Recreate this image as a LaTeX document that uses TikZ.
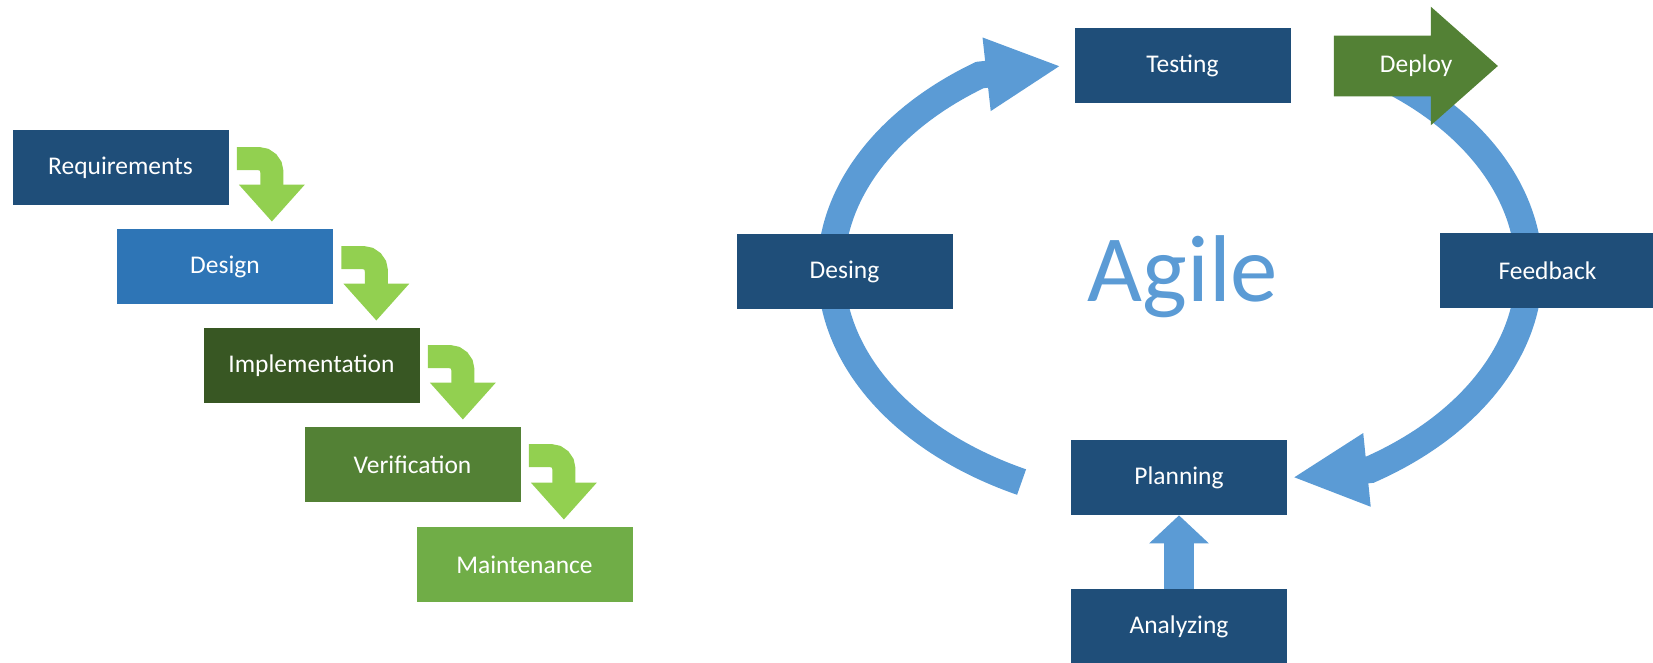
\documentclass[tikz,border=0pt]{standalone}
\usepackage{fontspec}
\setmainfont{Carlito}
\usetikzlibrary{arrows.meta,shapes.arrows,backgrounds}
\definecolor{boxnavy}{HTML}{1F4E79}
\definecolor{desblue}{HTML}{2E75B6}
\definecolor{impgreen}{HTML}{385723}
\definecolor{vergreen}{HTML}{538135}
\definecolor{maingreen}{HTML}{70AD47}
\definecolor{stepgreen}{HTML}{92D050}
\definecolor{cycleblue}{HTML}{5B9BD5}

\begin{document}
\begin{tikzpicture}[
	box/.style={rectangle, minimum width=4.32cm, minimum height=1.5cm, inner sep=0pt, text=white, font=\fontsize{14.5}{17}\selectfont},
	stairarrow/.style={draw=stepgreen, line width=0.46cm, rounded corners=0.26cm, -{Triangle[length=0.74cm, width=1.27cm]}},
	cyclearrow/.style={draw=cycleblue, line width=0.54cm, -{Triangle[length=1.5cm, width=1.36cm]}}
	]
	\useasboundingbox (0,0) rectangle (33.06,13.26);
	% waterfall
	\node[box, fill=boxnavy] (req) at(2.41,9.91){Requirements};
	\node[box, fill=desblue] (des) at(4.50,7.93){Design};
	\node[box, fill=impgreen] (imp) at(6.23,5.95){Implementation};
	\node[box, fill=vergreen] (ver) at(8.25,3.97){Verification};
	\node[box, fill=maingreen] (mai) at(10.49,1.97){Maintenance};
	\draw[stairarrow] ([xshift=0.16cm,yshift=-0.58cm]req.north east) -| ([xshift=0.86cm,yshift=0.14cm]req.east |- des.north);
	\draw[stairarrow] ([xshift=0.16cm,yshift=-0.58cm]des.north east) -| ([xshift=0.86cm,yshift=0.14cm]des.east |- imp.north);
	\draw[stairarrow] ([xshift=0.16cm,yshift=-0.58cm]imp.north east) -| ([xshift=0.86cm,yshift=0.14cm]imp.east |- ver.north);
	\draw[stairarrow] ([xshift=0.16cm,yshift=-0.58cm]ver.north east) -| ([xshift=0.86cm,yshift=0.14cm]ver.east |- mai.north);
	% agile cycle
	\coordinate (hub) at (23.6,7.86);
	\node[anchor=base, text=cycleblue, font=\fontsize{54}{60}\selectfont] (agile) at(23.66,7.22){Agile};
	\node[box, fill=boxnavy] (test) at(23.65,11.94){Testing};
	\node[box, fill=boxnavy] (desg) at(16.89,7.82){Desing};
	\node[box, fill=boxnavy] (feed) at(30.95,7.84){Feedback};
	\node[box, fill=boxnavy] (plan) at(23.58,3.71){Planning};
	\node[box, fill=boxnavy] (ana) at(23.58,0.72){Analyzing};
	\node[single arrow, anchor=tail, fill=vergreen, text=white, font=\fontsize{14.5}{17}\selectfont,
		minimum height=3.28cm, single arrow head extend=0.58cm, single arrow tip angle=83,
		inner xsep=0pt, inner ysep=0.37cm, text height=0.36cm, text depth=0.1cm] (dep) at(26.67,11.94){\makebox[1.45cm][l]{\hspace*{0.35cm}Deploy}};
	\begin{scope}[on background layer]
		\draw[cyclearrow] (hub) ++(243:6.98cm and 4.76cm) arc[start angle=243, end angle=125, x radius=6.98cm, y radius=4.76cm] -- ([xshift=-0.26cm]test.west);
		\draw[cyclearrow] (hub) ++(60:6.98cm and 4.76cm) arc[start angle=60, end angle=-57, x radius=6.98cm, y radius=4.76cm] -- ([xshift=0.1cm]plan.east);
	\end{scope}
	\draw[draw=cycleblue, line width=0.6cm, -{Triangle[length=0.56cm, width=1.16cm]}] (ana.north) -- (plan.south);
\end{tikzpicture}
\end{document}
